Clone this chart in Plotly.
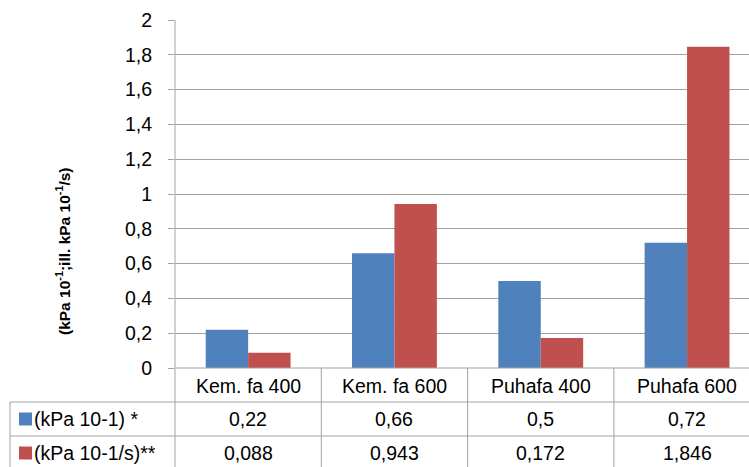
import plotly.graph_objects as go

# Data
categories = ["Kem. fa 400", "Kem. fa 600", "Puhafa 400", "Puhafa 600"]
series_names = ["(kPa 10-1) *", "(kPa 10-1/s)**"]
pressure = [0.22, 0.66, 0.5, 0.72]
rate = [0.088, 0.943, 0.172, 1.846]
series_values = [pressure, rate]
colors = ["#4F81BD", "#C0504D"]

# Layout geometry (pixels)
W, H = 749, 467
ML, MT, MB = 175, 20, 99
plot_w = W - ML
plot_h = H - MT - MB
cat_px = 146.3                      # width of one category column
x_hi = -0.5 + plot_w / cat_px       # last column runs past the right edge
grid_col = "#a3a3a3"
font_name = "Liberation Sans"
fs = 19.5

row_edges = [H - MB, 402, 436, 470]   # header row, series row 1, series row 2


def py(px):
    """pixel row -> paper y"""
    return (H - MB - px) / plot_h


def pxx(px):
    """pixel column -> paper x"""
    return (px - ML) / plot_w


fig = go.Figure()
for name, vals, col in zip(series_names, series_values, colors):
    fig.add_trace(go.Bar(x=list(range(len(categories))), y=vals, name=name,
                         marker=dict(color=col, line=dict(width=0))))

shapes = []
annotations = []

# data table: horizontal rules
shapes.append(dict(type="line", xref="paper", yref="paper", x0=0, x1=1,
                   y0=py(row_edges[0]), y1=py(row_edges[0]),
                   line=dict(color=grid_col, width=1)))
for r in row_edges[1:3]:
    shapes.append(dict(type="line", xref="paper", yref="paper", x0=pxx(10), x1=1,
                       y0=py(r), y1=py(r), line=dict(color=grid_col, width=1)))
# left border of the row-label column
shapes.append(dict(type="line", xref="paper", yref="paper", x0=pxx(10), x1=pxx(10),
                   y0=py(row_edges[1]), y1=py(H), line=dict(color=grid_col, width=1)))
# value axis line extended through the table
shapes.append(dict(type="line", xref="paper", yref="paper", x0=0, x1=0,
                   y0=1, y1=py(H), line=dict(color=grid_col, width=1)))
# column separators
for i in range(1, len(categories) + 1):
    shapes.append(dict(type="line", xref="x", yref="paper", x0=i - 0.5, x1=i - 0.5,
                       y0=py(row_edges[0]), y1=py(H), line=dict(color=grid_col, width=1)))

# header labels
for i, c in enumerate(categories):
    annotations.append(dict(x=i, xref="x", y=py((row_edges[0] + row_edges[1]) / 2 + 1), yref="paper",
                            text=c, showarrow=False, xanchor="center", yanchor="middle",
                            font=dict(family=font_name, size=fs, color="#000")))

# series rows: legend key, name, values
for k, (name, vals, col) in enumerate(zip(series_names, series_values, colors)):
    top, bot = row_edges[k + 1], row_edges[k + 2]
    mid = (top + bot) / 2
    shapes.append(dict(type="rect", xref="paper", yref="paper",
                       x0=pxx(19), x1=pxx(32), y0=py(mid - 6.5), y1=py(mid + 6.5),
                       fillcolor=col, line=dict(width=0)))
    annotations.append(dict(x=pxx(32), xref="paper", y=py(mid), yref="paper",
                            text=name, showarrow=False, xanchor="left", yanchor="middle",
                            font=dict(family=font_name, size=fs, color="#000")))
    for i, v in enumerate(vals):
        annotations.append(dict(x=i, xref="x", y=py(mid), yref="paper",
                                text=f"{v}".replace(".", ","), showarrow=False,
                                xanchor="center", yanchor="middle",
                                font=dict(family=font_name, size=fs, color="#000")))

# value axis title
annotations.append(dict(x=pxx(63), xref="paper", y=py(251), yref="paper",
                        text="<b>(kPa 10<sup>-1</sup>;ill. kPa 10<sup>-1</sup>/s)</b>",
                        textangle=-90, showarrow=False, xanchor="center", yanchor="middle",
                        font=dict(family=font_name, size=15.5, color="#000")))

fig.update_layout(
    width=W, height=H,
    margin=dict(l=ML, r=0, t=MT, b=MB, pad=0),
    paper_bgcolor="white", plot_bgcolor="white",
    separators=", ",
    barmode="group", bargap=0.42, bargroupgap=0,
    showlegend=False,
    shapes=shapes, annotations=annotations,
    xaxis=dict(range=[-0.5, x_hi], showticklabels=False, showgrid=False,
               zeroline=False, showline=False, ticks=""),
    yaxis=dict(range=[0, 2], dtick=0.2, tick0=0, showgrid=True, gridcolor=grid_col,
               gridwidth=1, zeroline=False, showline=False,
               ticks="outside", ticklen=6, tickcolor=grid_col,
               tickfont=dict(family=font_name, size=fs, color="#000"),
               ticklabelstandoff=12),
)
fig.write_html("out.html")
